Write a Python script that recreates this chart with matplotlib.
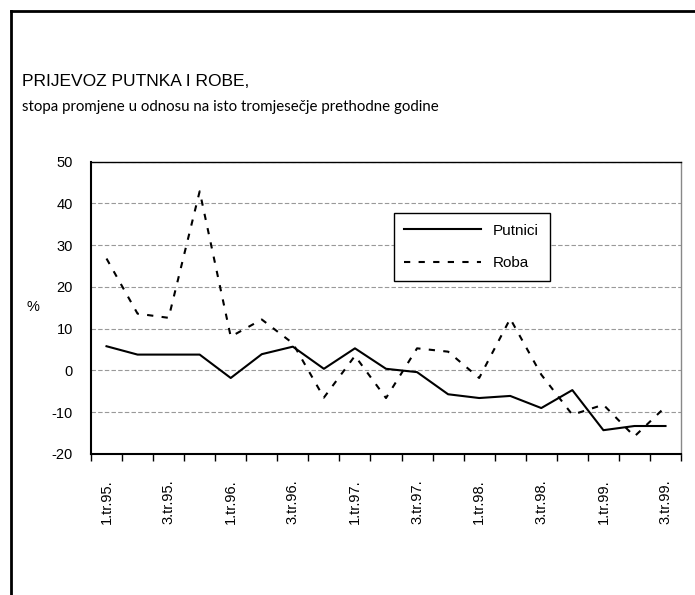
import numpy as np
import matplotlib
matplotlib.use('Agg')
import matplotlib.pyplot as plt
from matplotlib.lines import Line2D

quarters = ['1.tr.95.', '2.tr.95.', '3.tr.95.', '4.tr.95.',
            '1.tr.96.', '2.tr.96.', '3.tr.96.', '4.tr.96.',
            '1.tr.97.', '2.tr.97.', '3.tr.97.', '4.tr.97.',
            '1.tr.98.', '2.tr.98.', '3.tr.98.', '4.tr.98.',
            '1.tr.99.', '2.tr.99.', '3.tr.99.']
putnici = [5.8, 3.8, 3.8, 3.8, -1.8, 3.9, 5.7, 0.4, 5.3, 0.4,
           -0.4, -5.7, -6.6, -6.1, -9.0, -4.7, -14.3, -13.3, -13.3]
roba = [26.8, 13.6, 12.6, 42.9, 8.1, 12.2, 6.5, -6.5, 3.5, -6.6,
        5.3, 4.5, -1.8, 12.4, -1.0, -10.6, -8.2, -15.8, -8.7]

plt.rcParams['font.family'] = ['Liberation Sans', 'DejaVu Sans']
plt.rcParams['axes.unicode_minus'] = False

fig = plt.figure(figsize=(6.95, 5.95), dpi=100)
ax = fig.add_axes([0.1309, 0.237, 0.849, 0.4913])

x = np.arange(len(quarters))
ax.plot(x, putnici, color='black', linewidth=1.5, label='Putnici')
ax.plot(x, roba, color='black', linewidth=1.5, linestyle=(0, (3, 4)), label='Roba')

ax.set_xlim(-0.5, len(quarters) - 0.5)
ax.set_ylim(-20, 50)
ax.set_yticks(np.arange(-20, 51, 10))
ax.tick_params(axis='y', length=0, labelsize=10.5, pad=13)
ax.grid(axis='y', color='#999999', linestyle=(0, (4, 2)), linewidth=0.8)

ax.set_xticks(x[::2])
ax.set_xticklabels(quarters[::2], rotation=90, fontsize=10.5)
ax.tick_params(axis='x', which='major', length=0, pad=18)
ax.set_xticks(np.arange(-0.5, len(quarters), 1), minor=True)
ax.tick_params(axis='x', which='minor', length=5, width=1, direction='out')

ax.spines['left'].set_linewidth(1.5)
ax.spines['bottom'].set_linewidth(1.5)
ax.spines['top'].set_linewidth(1)
ax.spines['right'].set_color('#888888')
ax.spines['right'].set_linewidth(1)

leg = ax.legend(loc='upper left', bbox_to_anchor=(0.513, 0.824), fontsize=11,
                handlelength=5.0, labelspacing=1.2, fancybox=False,
                framealpha=1, edgecolor='black', borderpad=0.7,
                borderaxespad=0)
leg.get_frame().set_linewidth(1)

fig.text(33 / 695, 1 - 307 / 595, '%', fontsize=10.5, ha='center', va='center')
fig.text(22 / 695, 1 - 86 / 595, 'PRIJEVOZ PUTNKA I ROBE,', fontsize=12.5)
fig.text(22 / 695, 1 - 111 / 595,
         'stopa promjene u odnosu na isto tromjesečje prethodne godine',
         fontsize=10.8, family=['Lato', 'DejaVu Sans'])

# okvir slike: gornja i lijeva crta
fig.add_artist(Line2D([11 / 695, 1], [1 - 11 / 595, 1 - 11 / 595],
                      color='black', linewidth=2))
fig.add_artist(Line2D([11 / 695, 11 / 695], [0, 1 - 11 / 595],
                      color='black', linewidth=2))

plt.savefig('out.png', dpi=100)
